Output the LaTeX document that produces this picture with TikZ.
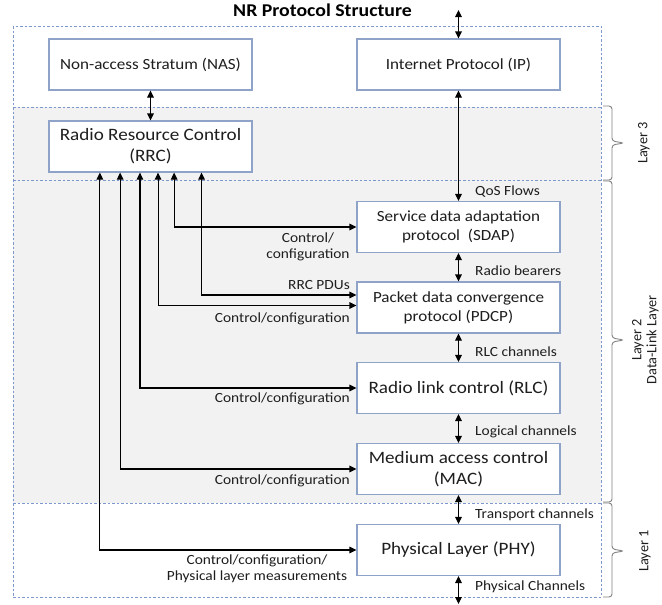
\documentclass[tikz,border=0pt]{standalone}
\usepackage{fontspec}
\setmainfont{Carlito}[FakeStretch=1.1]
\newfontfamily\plainfont{Carlito}
\usetikzlibrary{arrows.meta}

\definecolor{boxblue}{RGB}{143,162,200}
\definecolor{dashblue}{RGB}{125,152,205}
\definecolor{layergray}{RGB}{242,242,242}
\definecolor{bracegray}{RGB}{130,130,130}
\definecolor{textdark}{RGB}{30,30,30}

\tikzset{
  layerframe/.style={draw=dashblue, dash pattern=on 2.5pt off 2pt, line width=0.8pt},
  protobox/.style={draw=boxblue, line width=1.1pt, fill=white, minimum width=203pt,
    minimum height=51pt, inner sep=0pt, align=center, text=textdark},
  bigbox/.style={protobox, font=\fontsize{17.4}{21}\selectfont},
  smallbox/.style={protobox, font=\fontsize{15.5}{19}\selectfont},
  lbl/.style={inner sep=0pt, text=textdark, font=\fontsize{14}{16}\selectfont},
  vlbl/.style={inner sep=0pt, text=textdark, rotate=90, align=center,
    font=\plainfont\fontsize{14.3}{15}\selectfont},
  arr/.style={line width=1.1pt, {Triangle[length=7pt,width=6.5pt]}-{Triangle[length=7pt,width=6.5pt]}},
  layerbrace/.style={draw=bracegray, line width=0.9pt, rounded corners=3pt},
}

\begin{document}
\begin{tikzpicture}[x=1pt,y=-1pt]
\useasboundingbox (0,0) rectangle (662,605);
\fill[white] (0,0) rectangle (662,605);

% layer bands: shaded layers 3 and 2, dashed frame and separators
\fill[layergray] (13,107) rectangle (601,503);
\draw[layerframe] (13,26) rectangle (601,597);
\draw[layerframe] (13,107) -- (601,107);
\draw[layerframe] (13,180) -- (601,180);
\draw[layerframe] (13,503) -- (601,503);

% title
\node[font=\bfseries\fontsize{18}{20}\selectfont, text=black] (title) at (322.5,10) {NR Protocol Structure};

% protocol blocks
\node[smallbox] (nas)  at (150.5,64.5) {Non-access Stratum (NAS)};
\node[smallbox] (ip)   at (458.5,64.5) {Internet Protocol (IP)};
\node[bigbox]   (rrc)  at (150.5,146.5) {Radio Resource Control\\(RRC)};
\node[smallbox] (sdap) at (458.5,227) {Service data adaptation\\protocol\ \ (SDAP)};
\node[smallbox] (pdcp) at (458.5,307.5) {Packet data convergence\\protocol (PDCP)};
\node[bigbox]   (rlc)  at (458.5,388) {Radio link control (RLC)};
\node[bigbox]   (mac)  at (458.5,469) {Medium access control\\(MAC)};
\node[bigbox]   (phy)  at (458.5,550) {Physical Layer (PHY)};

% open ends of the user-plane stack
\coordinate (uptop) at (458.5,10);
\coordinate (downbot) at (458.5,604);

% vertical data path
\draw[arr] (uptop) -- (ip.north);
\draw[arr] (nas.south) -- (rrc.north);
\draw[arr] (ip.south) -- (sdap.north);
\draw[arr] (sdap.south) -- (pdcp.north);
\draw[arr] (pdcp.south) -- (rlc.north);
\draw[arr] (rlc.south) -- (mac.north);
\draw[arr] (mac.south) -- (phy.north);
\draw[arr] (phy.south) -- (downbot);

% control paths from RRC
\draw[arr] ([xshift=125.7pt]rrc.south west) |- (sdap.west);
\draw[arr] ([xshift=153.1pt]rrc.south west) |- ([yshift=12.5pt]pdcp.west);
\draw[arr] ([xshift=109.6pt]rrc.south west) |- ([yshift=2pt]pdcp.west);
\draw[arr] ([xshift=91.5pt]rrc.south west) |- (rlc.west);
\draw[arr] ([xshift=71.7pt]rrc.south west) |- (mac.west);
\draw[arr] ([xshift=51.4pt]rrc.south west) |- (phy.west);

% labels on control paths
\node[lbl, align=center] (lsdap) at (308,247) {Control/\\configuration};
\node[lbl, anchor=east] (lpdu) at (350,285) {RRC PDUs};
\node[lbl, anchor=east] (lpdcp) at (350,319) {Control/configuration};
\node[lbl, anchor=east] (lrlc) at (350,399) {Control/configuration};
\node[lbl, anchor=east] (lmac) at (350,481) {Control/configuration};
\node[lbl, align=center] (lphy) at (257,569) {Control/configuration/\\Physical layer measurements};

% labels on the data path
\node[lbl, anchor=west] (qos) at (475,192) {QoS Flows};
\node[lbl, anchor=west] (rb)  at (475,271) {Radio bearers};
\node[lbl, anchor=west] (rlcch) at (475,352) {RLC channels};
\node[lbl, anchor=west] (logch) at (475,432) {Logical channels};
\node[lbl, anchor=west] (trch) at (475,515) {Transport channels};
\node[lbl, anchor=west] (phych) at (475,587) {Physical Channels};

% layer braces
\draw[layerbrace] (603,106) -| (612,141) -- (624,143) -- (612,145) |- (603,180);
\draw[layerbrace] (603,181) -| (612,338) -- (624,340) -- (612,342) |- (603,502);
\draw[layerbrace] (603,503) -| (612,549) -- (624,551) -- (612,553) |- (603,597);

\node[vlbl] (l3) at (644,143) {Layer 3};
\node[vlbl] (l2) at (645.5,340) {Layer 2\\Data-Link Layer};
\node[vlbl] (l1) at (645,551) {Layer 1};
\end{tikzpicture}
\end{document}
